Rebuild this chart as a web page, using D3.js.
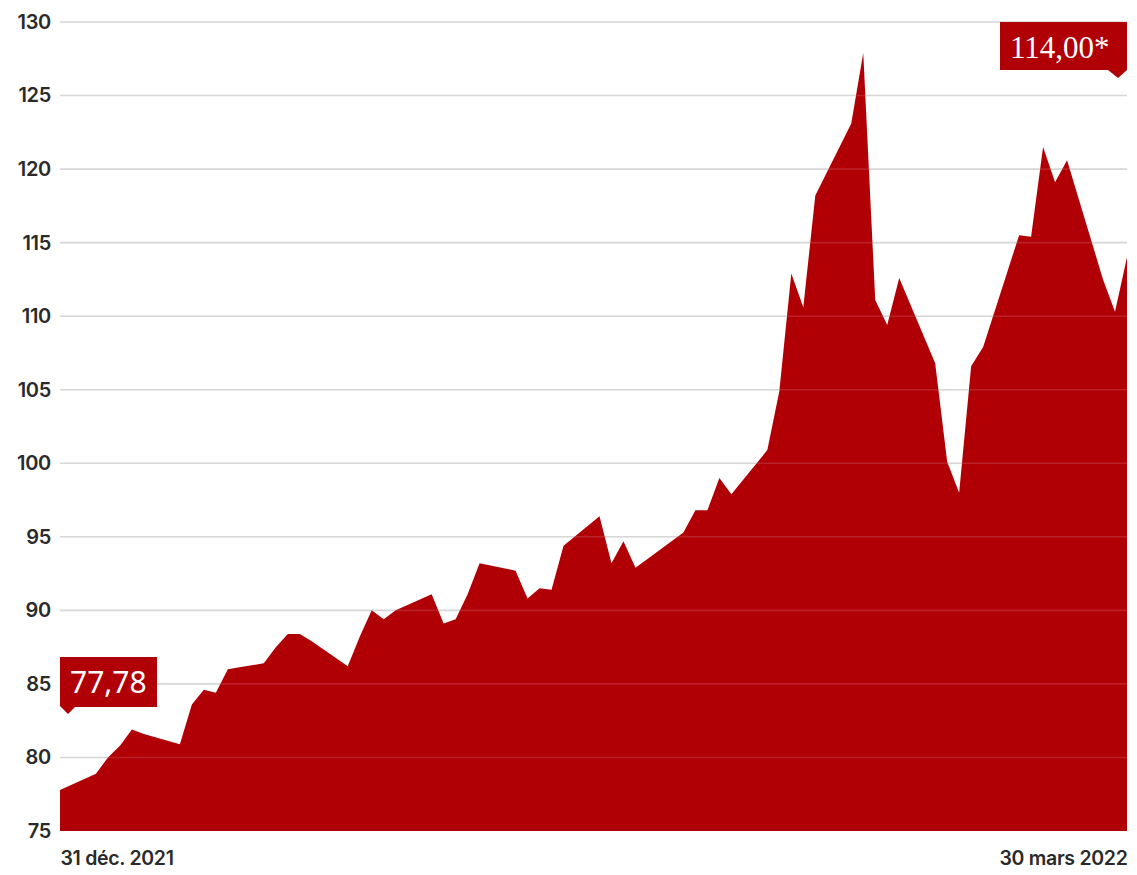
<!DOCTYPE html>
<html>
<head>
<meta charset="utf-8">
<script src="https://cdn.jsdelivr.net/npm/d3@7"></script>
<style>
  html, body { margin: 0; padding: 0; background: #fff; }
  svg { display: block; }
</style>
</head>
<body>
<svg id="chart" width="1137" height="875"></svg>
<script>
const dates = ["2021-12-31","2022-01-03","2022-01-04","2022-01-05","2022-01-06","2022-01-07","2022-01-10","2022-01-11","2022-01-12","2022-01-13","2022-01-14","2022-01-17","2022-01-18","2022-01-19","2022-01-20","2022-01-21","2022-01-24","2022-01-25","2022-01-26","2022-01-27","2022-01-28","2022-01-31","2022-02-01","2022-02-02","2022-02-03","2022-02-04","2022-02-07","2022-02-08","2022-02-09","2022-02-10","2022-02-11","2022-02-14","2022-02-15","2022-02-16","2022-02-17","2022-02-18","2022-02-21","2022-02-22","2022-02-23","2022-02-24","2022-02-25","2022-02-28","2022-03-01","2022-03-02","2022-03-03","2022-03-04","2022-03-07","2022-03-08","2022-03-09","2022-03-10","2022-03-11","2022-03-14","2022-03-15","2022-03-16","2022-03-17","2022-03-18","2022-03-21","2022-03-22","2022-03-23","2022-03-24","2022-03-25","2022-03-28","2022-03-29","2022-03-30"];
const prices = [77.78,78.9,80.0,80.8,81.9,81.6,80.9,83.6,84.6,84.4,86.0,86.4,87.5,88.4,88.4,87.9,86.2,88.2,90.0,89.4,90.0,91.1,89.1,89.4,91.1,93.2,92.7,90.8,91.5,91.4,94.4,96.4,93.2,94.7,92.9,93.5,95.3,96.8,96.8,99.0,97.9,100.9,104.9,112.9,110.6,118.2,123.1,127.9,111.1,109.4,112.6,106.8,100.1,98.0,106.6,107.9,115.5,115.4,121.5,119.1,120.6,112.5,110.3,114.0];
const yTicks = [75,80,85,90,95,100,105,110,115,120,125,130];
const xLabels = ["31 déc. 2021", "30 mars 2022"];
const startLabel = "77,78";
const endLabel = "114,00*";

const parse = d3.utcParse("%Y-%m-%d");
const data = dates.map((d, i) => ({ date: parse(d), value: prices[i] }));

const svg = d3.select("#chart");
const x = d3.scaleUtc()
  .domain([parse(dates[0]), parse(dates[dates.length - 1])])
  .range([60, 1127]);
const y = d3.scaleLinear().domain([75, 130]).range([831, 22]);

const red = "#b00006";

// grey gridlines behind
svg.append("g").selectAll("line").data(yTicks.filter(t => t > 75)).join("line")
  .attr("x1", x.range()[0]).attr("x2", x.range()[1])
  .attr("y1", d => y(d)).attr("y2", d => y(d))
  .attr("stroke", "#d2d2d2").attr("stroke-width", 1.6);

// area
const area = d3.area()
  .x(d => x(d.date))
  .y0(y(75))
  .y1(d => y(d.value));
svg.append("path").datum(data).attr("d", area).attr("fill", red);

// lighter gridlines over the area
svg.append("g").selectAll("line").data(yTicks.filter(t => t > 75)).join("line")
  .attr("x1", x.range()[0]).attr("x2", x.range()[1])
  .attr("y1", d => y(d)).attr("y2", d => y(d))
  .attr("stroke", "#ffffff").attr("stroke-opacity", 0.13).attr("stroke-width", 1.6);

// y axis labels
const yAxis = d3.axisLeft(y).tickValues(yTicks).tickSize(0).tickPadding(0);
const yg = svg.append("g").attr("transform", "translate(51,0)").call(yAxis);
yg.select(".domain").remove();
yg.selectAll("text")
  .attr("font-family", "Inter, 'Open Sans', sans-serif")
  .attr("font-weight", 600)
  .attr("font-size", 20)
  .attr("letter-spacing", -0.3)
  .attr("fill", "#2a2a2a");

// x labels
const xAxis = d3.axisBottom(x)
  .tickValues([parse(dates[0]), parse(dates[dates.length - 1])])
  .tickFormat((d, i) => xLabels[i]).tickSize(0).tickPadding(0);
const xg = svg.append("g").attr("transform", "translate(0,851)").call(xAxis);
xg.select(".domain").remove();
xg.selectAll("text")
  .attr("font-family", "Inter, 'Open Sans', sans-serif")
  .attr("font-weight", 600)
  .attr("font-size", 19.5)
  .attr("letter-spacing", -0.3)
  .attr("fill", "#2a2a2a")
  .attr("text-anchor", (d, i) => i === 0 ? "start" : "end");

// start annotation
const sx = x(parse(dates[0]));
const sg = svg.append("g");
sg.append("path")
  .attr("d", `M${sx},657 H${sx + 97} V707 H${sx + 15} L${sx + 8},714 L${sx},706 Z`)
  .attr("fill", red);
sg.append("text")
  .attr("x", sx + 10).attr("y", 693)
  .attr("font-family", "'Noto Sans', 'Open Sans', sans-serif")
  .attr("font-size", 30)
  .attr("fill", "#fff")
  .text(startLabel);

// end annotation
const ex = x(parse(dates[dates.length - 1]));
const eg = svg.append("g");
eg.append("path")
  .attr("d", `M${ex - 127},22 H${ex} V70 L${ex - 9},78 L${ex - 19},70 H${ex - 127} Z`)
  .attr("fill", red);
eg.append("text")
  .attr("x", ex - 117).attr("y", 58)
  .attr("font-family", "'Liberation Serif', 'DejaVu Serif', serif")
  .attr("font-size", 31)
  .attr("fill", "#fff")
  .text(endLabel);
</script>
</body>
</html>
